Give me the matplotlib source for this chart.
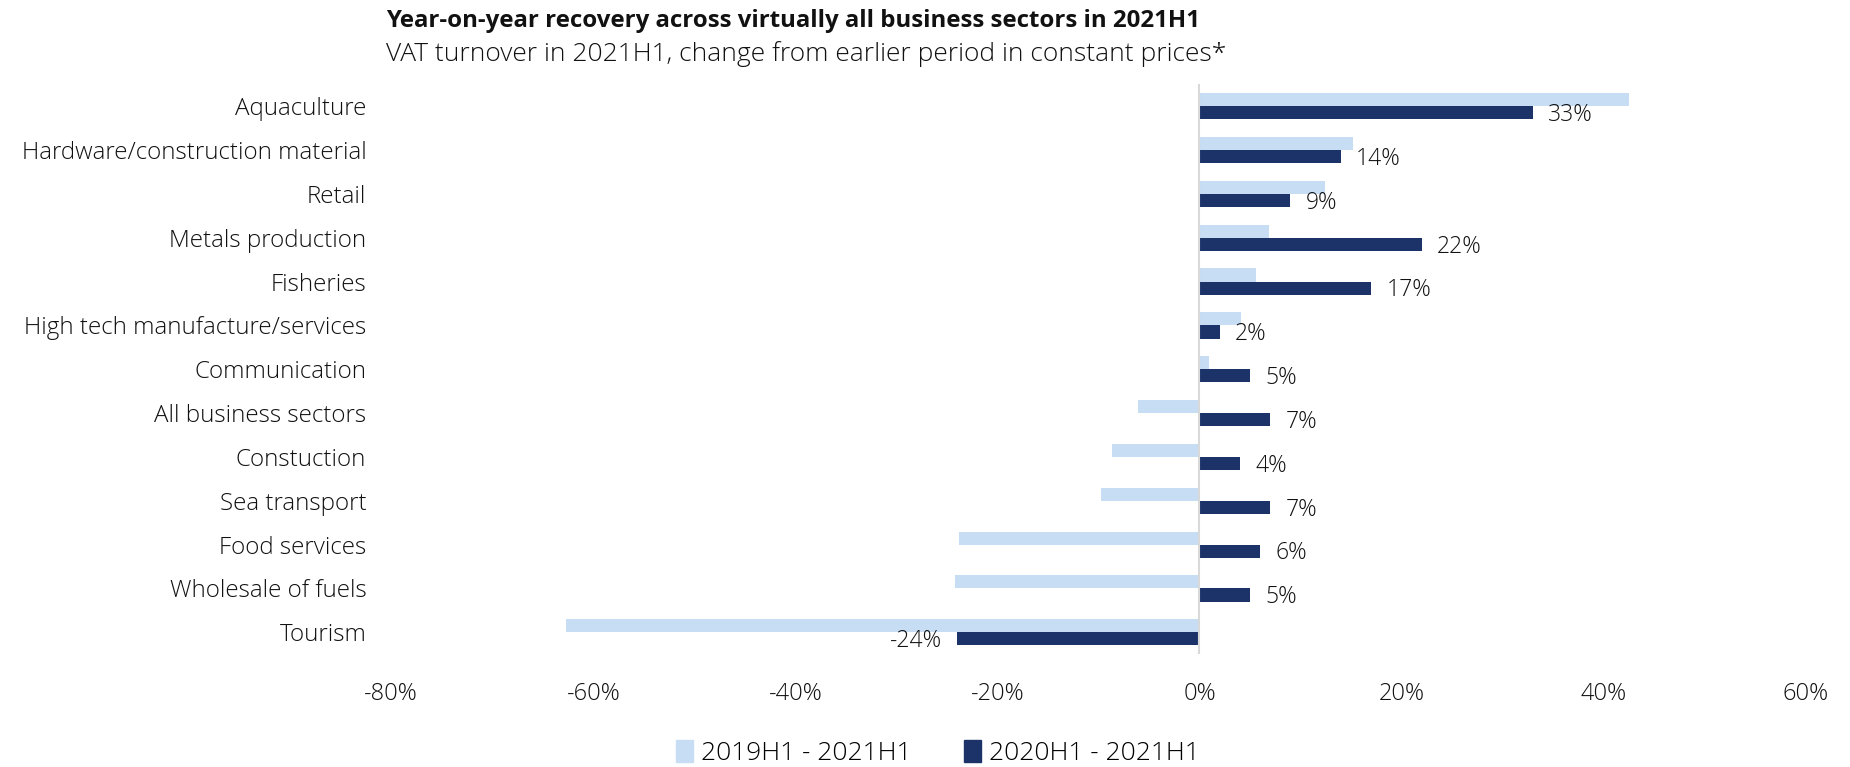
import matplotlib
matplotlib.use("Agg")
import matplotlib.pyplot as plt
from matplotlib.patches import Patch

plt.rcParams['font.family'] = ['Open Sans', 'DejaVu Sans']

sectors = [
    "Aquaculture", "Hardware/construction material", "Retail", "Metals production",
    "Fisheries", "High tech manufacture/services", "Communication",
    "All business sectors", "Constuction", "Sea transport", "Food services",
    "Wholesale of fuels", "Tourism",
]
change_2019 = [42.5, 15.2, 12.4, 6.9, 5.6, 4.1, 0.9, -6.1, -8.7, -9.7, -23.8, -24.2, -62.7]
change_2020 = [33, 14, 9, 22, 17, 2, 5, 7, 4, 7, 6, 5, -24]
series_names = ["2019H1 - 2021H1", "2020H1 - 2021H1"]
xticks = [-80, -60, -40, -20, 0, 20, 40, 60]

light = "#C7DDF4"
dark = "#1C336A"
text_col = "#111111"
w = "light"

fig = plt.figure(figsize=(18.5, 7.67), dpi=100)
ax = fig.add_axes([0.2115, 0.147, 0.7645, 0.743])

y = list(range(len(sectors)))
h = 0.30
ax.barh([v - h / 2 for v in y], change_2019, height=h, color=light, zorder=2)
ax.barh([v + h / 2 for v in y], change_2020, height=h, color=dark, zorder=2)

for yi, val in zip(y, change_2020):
    off = 11 if val >= 0 else -11
    ax.annotate(f"{val:.0f}%", xy=(val, yi + h / 2 + 0.05), xytext=(off, 0),
                textcoords="offset points", ha="left" if val >= 0 else "right",
                va="center", fontsize=16.5, fontweight=w, color=text_col)

ax.set_xlim(-80, 60)
ax.set_ylim(len(sectors) - 0.5, -0.5)
ax.set_yticks(y)
ax.set_yticklabels(sectors, fontsize=17.4, fontweight=w, color=text_col)
ax.set_xticks(xticks)
ax.set_xticklabels([f"{t}%" for t in xticks], fontsize=17, fontweight=w, color=text_col)
ax.tick_params(axis="y", length=0, pad=18)
ax.tick_params(axis="x", length=0, pad=20)
for s in ax.spines.values():
    s.set_visible(False)
ax.axvline(0, color="#d9d9d9", lw=1.5, zorder=3)

fig.text(0.2085, 0.973, "Year-on-year recovery across virtually all business sectors in 2021H1",
         fontsize=17.3, fontweight="bold", color="#111111", va="center")
fig.text(0.2085, 0.930, "VAT turnover in 2021H1, change from earlier period in constant prices*",
         fontsize=19, fontweight=w, color=text_col, va="center")

handles = [Patch(color=light), Patch(color=dark)]
fig.legend(handles, series_names, loc="center", bbox_to_anchor=(0.507, 0.018),
           ncol=2, frameon=False, handlelength=0.65, handleheight=0.9,
           handletextpad=0.3, columnspacing=2.0,
           prop={"size": 19, "weight": w})

fig.savefig("out.png", dpi=100)
